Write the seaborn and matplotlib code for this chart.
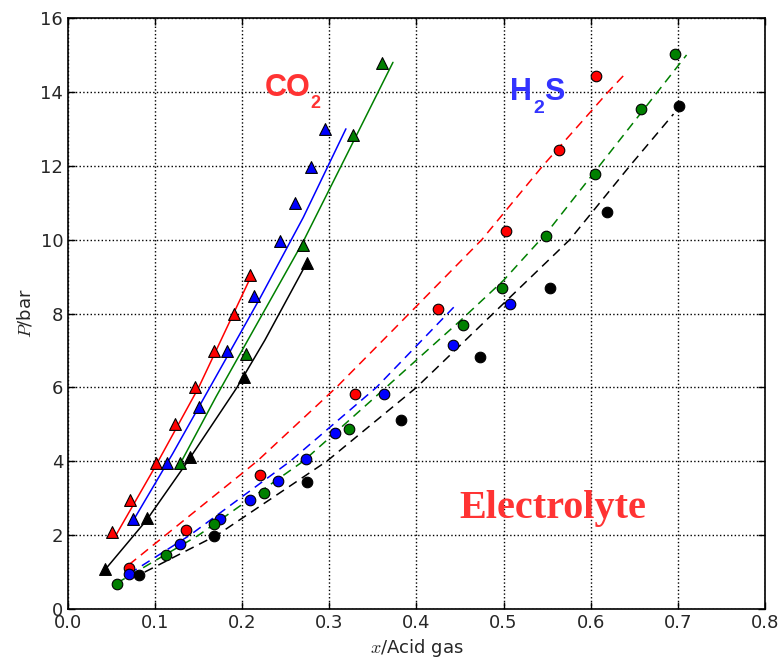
import matplotlib
matplotlib.use("Agg")
import matplotlib.pyplot as plt
import pandas as pd
import seaborn as sns

# CO2 - experiment (triangles)
co2_red_x = [0.051, 0.071, 0.101, 0.123, 0.146, 0.168, 0.190, 0.209]
co2_red_y = [2.09, 2.95, 3.94, 5.00, 6.00, 6.99, 8.00, 9.03]
co2_blue_x = [0.075, 0.114, 0.150, 0.183, 0.214, 0.243, 0.261, 0.279, 0.295]
co2_blue_y = [2.45, 3.96, 5.46, 6.99, 8.47, 9.97, 10.98, 11.98, 12.99]
co2_green_x = [0.128, 0.204, 0.270, 0.327, 0.360]
co2_green_y = [3.94, 6.90, 9.85, 12.83, 14.79]
co2_black_x = [0.0425, 0.091, 0.140, 0.202, 0.274]
co2_black_y = [1.08, 2.47, 4.12, 6.29, 9.37]

# CO2 - model (solid lines)
co2_red_line_x = [0.055, 0.100, 0.150, 0.210]
co2_red_line_y = [2.00, 3.85, 6.00, 9.00]
co2_blue_line_x = [0.075, 0.120, 0.170, 0.220, 0.270, 0.319]
co2_blue_line_y = [2.40, 4.20, 6.30, 8.40, 10.60, 13.00]
co2_green_line_x = [0.128, 0.170, 0.220, 0.270, 0.320, 0.373]
co2_green_line_y = [3.90, 5.75, 7.85, 9.95, 12.30, 14.80]
co2_black_line_x = [0.042, 0.090, 0.136, 0.194, 0.226, 0.274]
co2_black_line_y = [1.05, 2.40, 3.95, 6.00, 7.28, 9.37]

# H2S - experiment (circles)
h2s_red_x = [0.070, 0.136, 0.220, 0.329, 0.425, 0.503, 0.564, 0.606]
h2s_red_y = [1.10, 2.14, 3.63, 5.81, 8.11, 10.24, 12.42, 14.44]
h2s_blue_x = [0.070, 0.129, 0.175, 0.209, 0.241, 0.273, 0.306, 0.363, 0.442, 0.507]
h2s_blue_y = [0.94, 1.76, 2.45, 2.95, 3.47, 4.05, 4.76, 5.82, 7.15, 8.25]
h2s_green_x = [0.056, 0.1125, 0.168, 0.2246, 0.323, 0.453, 0.498, 0.549, 0.605, 0.658, 0.697]
h2s_green_y = [0.68, 1.46, 2.30, 3.15, 4.87, 7.69, 8.68, 10.10, 11.78, 13.55, 15.02]
h2s_black_x = [0.082, 0.1676, 0.274, 0.382, 0.473, 0.553, 0.619, 0.701]
h2s_black_y = [0.92, 1.98, 3.43, 5.12, 6.81, 8.70, 10.74, 13.63]

# H2S - model (dashed lines)
h2s_red_line_x = [0.070, 0.217, 0.308, 0.373, 0.475, 0.545, 0.620, 0.640]
h2s_red_line_y = [1.20, 4.00, 6.00, 7.55, 10.00, 12.00, 14.00, 14.50]
h2s_blue_line_x = [0.070, 0.140, 0.255, 0.354, 0.446]
h2s_blue_line_y = [0.95, 2.00, 4.00, 6.00, 8.25]
h2s_green_line_x = [0.056, 0.150, 0.270, 0.365, 0.450, 0.500, 0.550, 0.605, 0.660, 0.710]
h2s_green_line_y = [0.70, 2.00, 4.00, 6.00, 7.80, 8.90, 10.20, 11.85, 13.50, 15.00]
h2s_black_line_x = [0.088, 0.171, 0.297, 0.400, 0.488, 0.576, 0.645, 0.695]
h2s_black_line_y = [1.00, 2.00, 4.00, 6.00, 8.00, 10.00, 12.00, 13.40]

x_ticks = [0.0, 0.1, 0.2, 0.3, 0.4, 0.5, 0.6, 0.7, 0.8]
y_ticks = [0, 2, 4, 6, 8, 10, 12, 14, 16]

sns.set_style("ticks")
plt.rcParams['font.family'] = ['DejaVu Sans']
plt.rcParams['xtick.direction'] = 'in'
plt.rcParams['ytick.direction'] = 'in'
plt.rcParams['xtick.top'] = True
plt.rcParams['ytick.right'] = True

fig = plt.figure(figsize=(7.79, 6.65), dpi=100)
ax = fig.add_axes([0.0873, 0.0842, 0.8947, 0.8887])

colors = {'red': '#ff0000', 'blue': '#0000ff', 'green': '#008000', 'black': '#000000'}

co2_lines = [(co2_red_line_x, co2_red_line_y, 'red'), (co2_blue_line_x, co2_blue_line_y, 'blue'),
             (co2_green_line_x, co2_green_line_y, 'green'), (co2_black_line_x, co2_black_line_y, 'black')]
h2s_lines = [(h2s_red_line_x, h2s_red_line_y, 'red'), (h2s_blue_line_x, h2s_blue_line_y, 'blue'),
             (h2s_green_line_x, h2s_green_line_y, 'green'), (h2s_black_line_x, h2s_black_line_y, 'black')]

# model curves
for xs, ys, c in co2_lines:
    df = pd.DataFrame({'x': xs, 'y': ys})
    sns.lineplot(data=df, x='x', y='y', ax=ax, color=colors[c], lw=1.1, sort=False, estimator=None, zorder=2)
for xs, ys, c in h2s_lines:
    df = pd.DataFrame({'x': xs, 'y': ys})
    sns.lineplot(data=df, x='x', y='y', ax=ax, color=colors[c], lw=1.1, sort=False, estimator=None,
                 zorder=2)
    ax.lines[-1].set_dashes([6, 4])

co2_pts = [(co2_red_x, co2_red_y, 'red'), (co2_blue_x, co2_blue_y, 'blue'),
           (co2_green_x, co2_green_y, 'green'), (co2_black_x, co2_black_y, 'black')]
h2s_pts = [(h2s_red_x, h2s_red_y, 'red'), (h2s_blue_x, h2s_blue_y, 'blue'),
           (h2s_green_x, h2s_green_y, 'green'), (h2s_black_x, h2s_black_y, 'black')]

# experimental points
for xs, ys, c in co2_pts:
    df = pd.DataFrame({'x': xs, 'y': ys})
    sns.scatterplot(data=df, x='x', y='y', ax=ax, marker='^', s=72, color=colors[c],
                    edgecolor='black', linewidth=0.8, zorder=3)
for xs, ys, c in h2s_pts:
    df = pd.DataFrame({'x': xs, 'y': ys})
    sns.scatterplot(data=df, x='x', y='y', ax=ax, marker='o', s=58, color=colors[c],
                    edgecolor='black', linewidth=0.8, zorder=3)

ax.set_xlim(0, 0.8)
ax.set_ylim(0, 16)
ax.set_xticks(x_ticks)
ax.set_yticks(y_ticks)
ax.set_xticklabels([f'{t:.1f}' for t in x_ticks])
ax.tick_params(labelsize=13, length=5, width=1, color='black')
ax.grid(True, linestyle=':', color='black', linewidth=1)
for sp in ax.spines.values():
    sp.set_visible(True)
    sp.set_color('black')
    sp.set_linewidth(1.2)

ax.set_xlabel(r'$x$/Acid gas', fontsize=13, math_fontfamily='cm')
ax.set_ylabel(r'$P$/bar', fontsize=13, math_fontfamily='cm')

# labels with lowered subscripts
co = ax.text(0.226, 13.9, 'CO', color='#ff3333', fontsize=22, fontweight='bold',
             family='Liberation Sans', ha='left', va='baseline')
ax.annotate('2', xy=(1, 0), xycoords=co, xytext=(0, -7), textcoords='offset points',
            color='#ff3333', fontsize=13, fontweight='bold', family='Liberation Sans',
            ha='left', va='bottom')
h = ax.text(0.507, 13.78, 'H', color='#3333ff', fontsize=22, fontweight='bold',
            family='Liberation Sans', ha='left', va='baseline')
sub = ax.annotate('2', xy=(1, 0), xycoords=h, xytext=(1, -7), textcoords='offset points',
                  color='#3333ff', fontsize=14, fontweight='bold', family='Liberation Sans',
                  ha='left', va='bottom')
ax.annotate('S', xy=(1, 0), xycoords=sub, xytext=(0, 7), textcoords='offset points',
            color='#3333ff', fontsize=22, fontweight='bold', family='Liberation Sans',
            ha='left', va='bottom')
ax.text(0.556, 2.73, 'Electrolyte', color='#ff3333', fontsize=29, fontweight='bold',
        family='Liberation Serif', ha='center', va='center')

fig.savefig('out.png', dpi=100)
